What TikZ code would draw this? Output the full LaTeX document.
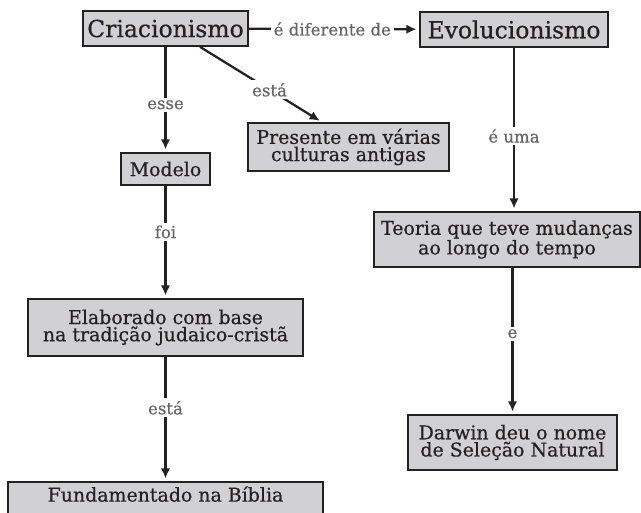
\documentclass[tikz,border=0pt]{standalone}
\usepackage{fontspec}
\setmainfont{DejaVu Serif}[FakeBold=0.6]
\usetikzlibrary{arrows.meta}
\definecolor{mfill}{rgb}{0.82, 0.82, 0.83}
\definecolor{mink}{rgb}{0.14, 0.13, 0.13}
\definecolor{mword}{rgb}{0.40, 0.40, 0.41}

\tikzset{
  concept/.style={draw=mink, fill=mfill, line width=1.3pt, text=mink, align=center, inner sep=0pt, font=\fontsize{14.2}{12.9}\selectfont},
  bigconcept/.style={concept, font=\fontsize{17.6}{17}\selectfont},
  link/.style={mink, line width=1.7pt, -{Latex[length=7.5pt, width=7pt]}, shorten >=2pt},
  linkword/.style={fill=white, text=mword, inner sep=2pt, font=\fontsize{12.4}{12}\selectfont},
}

\begin{document}
\begin{tikzpicture}[x=0.75pt, y=-0.75pt]
    \useasboundingbox (0, 0) rectangle (641, 512);

    \node [bigconcept, minimum width=123.75pt, minimum height=26.25pt] (crio) at (165.5, 28.5) {Criacionismo};
    \node [bigconcept, minimum width=141pt, minimum height=26.25pt] (evol) at (514, 29.5) {Evolucionismo};

    \node [concept, minimum width=150.75pt, minimum height=36pt] (pres) at (348.5, 147) {Presente em várias\\culturas antigas};
    \node [concept, minimum width=66.75pt, minimum height=24pt] (modelo) at (165.5, 169) {Modelo};
    \node [concept, minimum width=206.25pt, minimum height=42.75pt] (elab) at (165.5, 327.5) {Elaborado com base\\na tradição judaico-cristã};
    \node [concept, minimum width=236.25pt, minimum height=30pt, text depth=12pt] (fund) at (165.5, 502) {Fundamentado na Bíblia};

    \node [concept, minimum width=199.5pt, minimum height=41.25pt] (teoria) at (507, 239.5) {Teoria que teve mudanças\\ao longo do tempo};
    \node [concept, minimum width=156.75pt, minimum height=41.25pt] (darwin) at (512.5, 442.5) {Darwin deu o nome\\de Seleção Natural};

    \draw [link] (crio) -- (evol) node [linkword, pos=0.49] {é diferente de};
    \draw [link] (crio.south) -- (modelo.north) node [linkword, pos=0.55] {esse};
    \draw [link] ([xshift=25.9pt]crio.south) -- ([xshift=-19.9pt]pres.north) node [linkword, pos=0.57] {está};
    \draw [link] (modelo.south) -- (elab.north) node [linkword, pos=0.41] {foi};
    \draw [link] (elab.south) -- (fund.north) node [linkword, pos=0.41] {está};

    \draw [link] (evol.south) -- (evol.south |- teoria.north) node [linkword, pos=0.54] {é uma};
    \draw [link] (darwin.north |- teoria.south) -- (darwin.north) node [linkword, pos=0.45] {e};
\end{tikzpicture}
\end{document}
